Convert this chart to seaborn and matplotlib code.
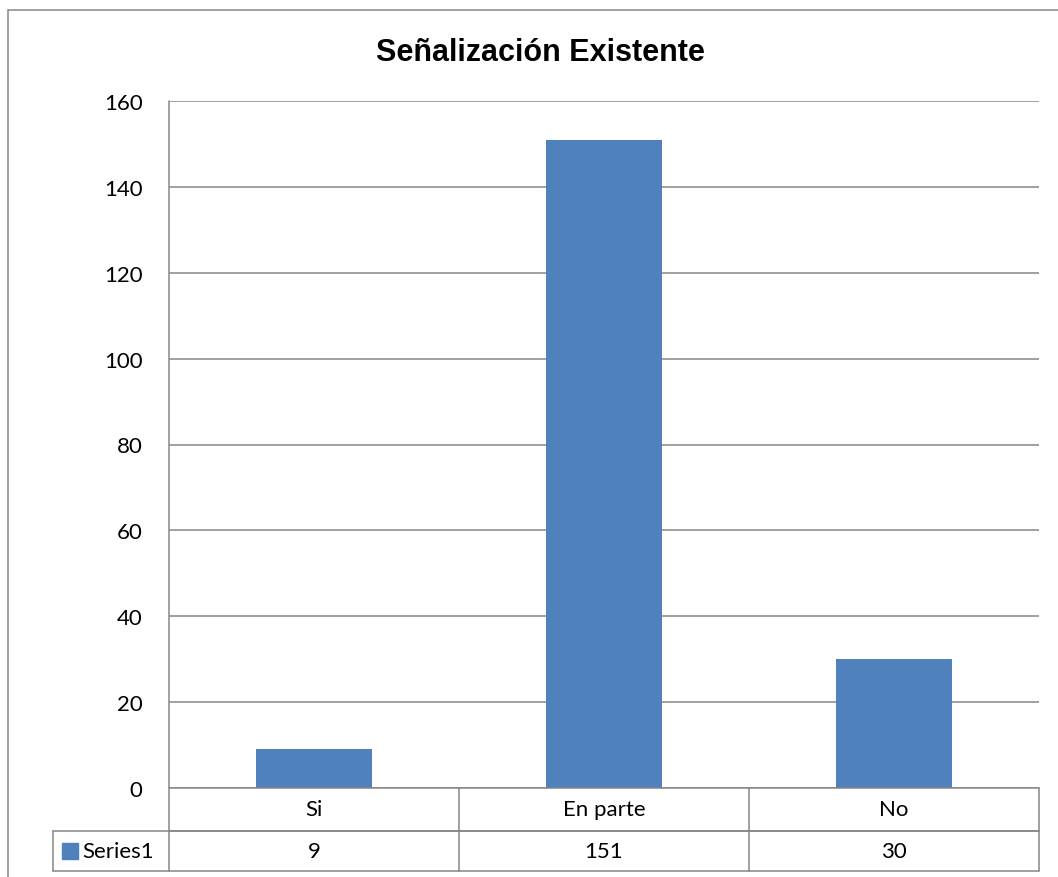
import matplotlib
matplotlib.use("Agg")
import matplotlib.pyplot as plt
import seaborn as sns
import pandas as pd
from matplotlib.patches import Rectangle
from matplotlib.lines import Line2D

categories = ["Si", "En parte", "No"]
values = [9, 151, 30]
series_name = "Series1"
title = "Señalización Existente"

sns.set_style("white")
plt.rcParams['font.family'] = ['Lato', 'DejaVu Sans']
plt.rcParams['text.color'] = 'black'
plt.rcParams['ytick.color'] = 'black'

bar_color = "#4F81BD"
grid_color = "#868686"

df = pd.DataFrame({"cat": categories, "val": values})

fig = plt.figure(figsize=(10.58, 8.78), dpi=100)
ax = fig.add_axes([169 / 1058, 1 - 789 / 878, 870 / 1058, 687 / 878])

sns.barplot(data=df, x="cat", y="val", color=bar_color, width=0.4,
            saturation=1, linewidth=0, ax=ax, zorder=3)

ax.set_ylim(0, 160)
ax.set_xlim(-0.5, 2.5)
ax.set_yticks(range(0, 161, 20))
ax.yaxis.grid(True, color=grid_color, linewidth=1.1, zorder=0)
ax.set_axisbelow(True)
ax.set_xticks([])
ax.set_xlabel("")
ax.set_ylabel("")
ax.tick_params(axis="y", length=0, pad=19, labelsize=16, labelcolor="black")
for s in ["top", "right", "bottom", "left"]:
    ax.spines[s].set_visible(False)

# data table under the plot (axes coordinates)
h = 687
r1 = -43 / h
r2 = -83 / h
leg_left = (53 - 169) / 870
lw = 1.1
tr = ax.transAxes

def line(xs, ys):
    ax.add_line(Line2D(xs, ys, transform=tr, color=grid_color, lw=lw,
                       clip_on=False, zorder=4))

line([0, 0], [1, r2])                 # left axis line through table
line([0, 1], [0, 0])
line([0, 1], [r1, r1])
line([leg_left, 1], [r1, r1])
line([leg_left, 1], [r2, r2])
line([leg_left, leg_left], [r1, r2])
for i in range(1, 4):
    line([i / 3, i / 3], [0, r2])

for i, (c, v) in enumerate(zip(categories, values)):
    xc = (i + 0.5) / 3
    ax.text(xc, r1 / 2, c, transform=tr, ha="center", va="center", fontsize=16)
    ax.text(xc, (r1 + r2) / 2, str(v), transform=tr, ha="center",
            va="center", fontsize=16)

# legend key in table
ax.add_patch(Rectangle(((62 - 169) / 870, (r1 + r2) / 2 - 8 / h), 16 / 870, 16 / h,
                       transform=tr, color=bar_color, clip_on=False, zorder=5))
ax.text((82 - 169) / 870, (r1 + r2) / 2, series_name, transform=tr,
        ha="left", va="center", fontsize=16)

# title
fig.text(540 / 1058, 1 - 53 / 878, title, ha="center", va="center", color="black",
         fontsize=22, fontweight="bold", family=["Liberation Sans", "DejaVu Sans"])

# outer chart border
fig.add_artist(Line2D([8 / 1058, 8 / 1058], [1 - 11 / 878, 0], transform=fig.transFigure,
                      color=grid_color, lw=1.1))
fig.add_artist(Line2D([8 / 1058, 1], [1 - 11 / 878, 1 - 11 / 878], transform=fig.transFigure,
                      color=grid_color, lw=1.1))

fig.savefig("out.png", dpi=100)
